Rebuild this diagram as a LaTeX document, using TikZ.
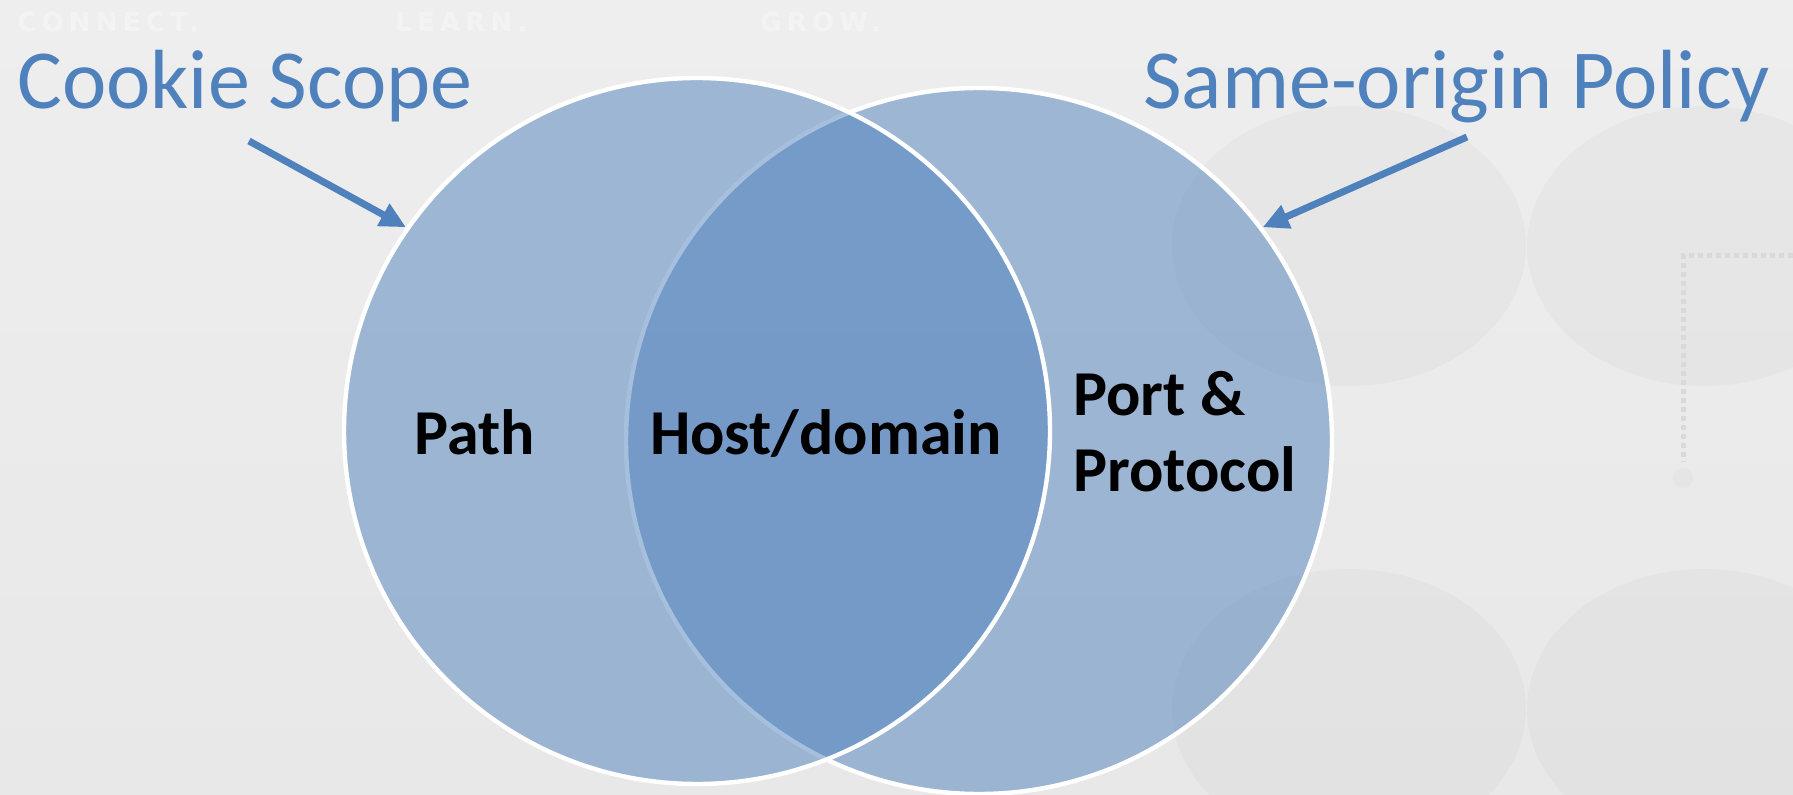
\documentclass[tikz,border=0pt]{standalone}
\usepackage{fontspec}
\setmainfont{Carlito}
\newfontfamily\wmfont[LetterSpace=20]{DejaVu Sans}
\usetikzlibrary{positioning, arrows.meta}
\definecolor{titleblue}{HTML}{4F81BD}
\definecolor{bgtop}{HTML}{EEEEEE}
\definecolor{bgmid}{HTML}{F9F9F9}
\definecolor{bgbot}{HTML}{E8E8E8}

\tikzset{
  venn/.style={circle, minimum size=353pt, inner sep=0pt, fill=titleblue,
    fill opacity=0.5, draw=white, line width=2.2pt},
  heading/.style={text=titleblue, font=\fontsize{42}{50}\selectfont,
    inner sep=0pt, anchor=base west},
  setname/.style={font=\fontsize{32}{38}\selectfont\bfseries, inner sep=0pt,
    anchor=base, align=left},
  pointer/.style={draw=titleblue, line width=3.5pt,
    -{Triangle[length=13pt, width=12pt]}},
  watermark/.style={text=white, text opacity=0.35, inner sep=0pt,
    font=\wmfont\bfseries\fontsize{13}{14}\selectfont, anchor=base west}
}

\begin{document}
\begin{tikzpicture}[x=0.5pt, y=-0.5pt]
  % background
  \shade[top color=bgtop, middle color=bgmid, bottom color=bgbot]
    (0,0) rectangle (1793,795);
  \useasboundingbox (0,0) rectangle (1793,795);
  \foreach \cx/\cy in {1349/246, 1704/246, 1349/709, 1704/709}
    \fill[black, opacity=0.022] (\cx,\cy) ellipse (177 and 140);
  \draw[black!15, line width=2.5pt, dotted] (1793,256) -| (1683,462);
  \fill[black!10] (1683,478) circle (10);
  \node[watermark] (wm1) at (17,32) {CONNECT.};
  \node[watermark] (wm2) at (395,32) {LEARN.};
  \node[watermark] (wm3) at (760,32) {GROW.};

  % the two sets
  \node[venn] (origin) at (979,441) {};
  \node[venn] (cookie) at (697,431) {};

  % set names
  \node[setname] (path) at (475,455) {Path};
  \node[setname] (host) at (826,455) {Host/domain};
  \node[setname, anchor=base west] (port) at (1073,492) {Port \&\\Protocol};

  % headings and pointers
  \node[heading] (cookiehead) at (17,109) {Cookie Scope};
  \node[heading] (originhead) at (1143,109) {Same-origin Policy};
  \coordinate (cookiefrom) at (249,141);
  \coordinate (originfrom) at (1467,137);
  \draw[pointer] (cookiefrom) -- (cookie.145.6);
  \draw[pointer] (originfrom) -- (origin.37.7);
\end{tikzpicture}
\end{document}
